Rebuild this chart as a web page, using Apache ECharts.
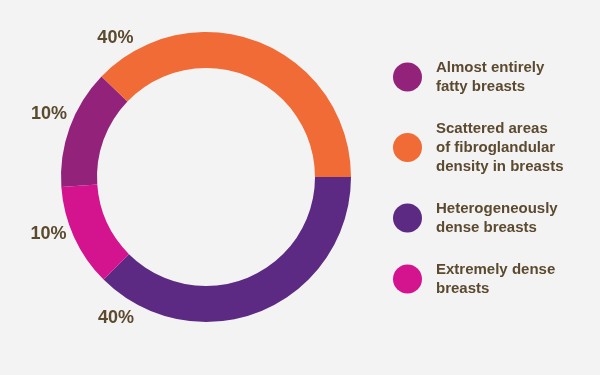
<!DOCTYPE html>
<html>
<head>
<meta charset="utf-8">
<script src="https://cdn.jsdelivr.net/npm/echarts@6/dist/echarts.min.js"></script>
<style>
html,body{margin:0;padding:0;background:#f3f3f3;}
#c{width:600px;height:375px;}
</style>
</head>
<body>
<div id="c"></div>
<script>
// Data
var categories = [
  'Almost entirely\nfatty breasts',
  'Scattered areas\nof fibroglandular\ndensity in breasts',
  'Heterogeneously\ndense breasts',
  'Extremely dense\nbreasts'
];
// arc shares as drawn in the picture
var values = [13.3, 37.8, 37.5, 11.4];
// printed percentage labels
var labelTexts = ['10%', '40%', '40%', '10%'];
var colors = ['#93237a', '#f06b35', '#5c2a82', '#d4148e'];

// Label placement (layout, not data): angle in degrees around the ring centre
var CX = 206, CY = 177;
var labelAngles = [158.2, 123.2, 237.4, 199.9];
var labelRadii = [169, 165.5, 167, 167.5];

var chart = echarts.init(document.getElementById('c'));
var textColor = '#5b4a2f';
chart.setOption({
  backgroundColor: '#f3f3f3',
  animation: false,
  legend: {
    orient: 'vertical',
    left: 393,
    top: 58,
    padding: 0,
    icon: 'circle',
    itemWidth: 29,
    itemHeight: 29,
    itemGap: 23,
    selectedMode: false,
    textStyle: {
      color: textColor,
      fontFamily: 'Liberation Sans, Arial, sans-serif',
      fontWeight: 'bold',
      fontSize: 15,
      lineHeight: 19,
      padding: [0, 0, 0, 9]
    },
    data: categories
  },
  series: [{
    type: 'pie',
    center: [CX, CY],
    radius: [109, 145],
    startAngle: 184,
    clockwise: true,
    silent: true,
    avoidLabelOverlap: false,
    data: categories.map(function (c, i) {
      return { name: c, value: values[i], itemStyle: { color: colors[i] } };
    }),
    label: {
      show: true,
      position: 'outside',
      formatter: function (p) { return labelTexts[p.dataIndex]; },
      color: textColor,
      fontFamily: 'Liberation Sans, Arial, sans-serif',
      fontWeight: 'bold',
      fontSize: 18
    },
    labelLine: { show: false },
    labelLayout: function (p) {
      var a = labelAngles[p.dataIndex] * Math.PI / 180;
      var r = labelRadii[p.dataIndex];
      return {
        x: CX + r * Math.cos(a),
        y: CY - r * Math.sin(a),
        align: 'center',
        verticalAlign: 'middle',
        hideOverlap: false,
        moveOverlap: false
      };
    }
  }]
});
</script>
</body>
</html>
